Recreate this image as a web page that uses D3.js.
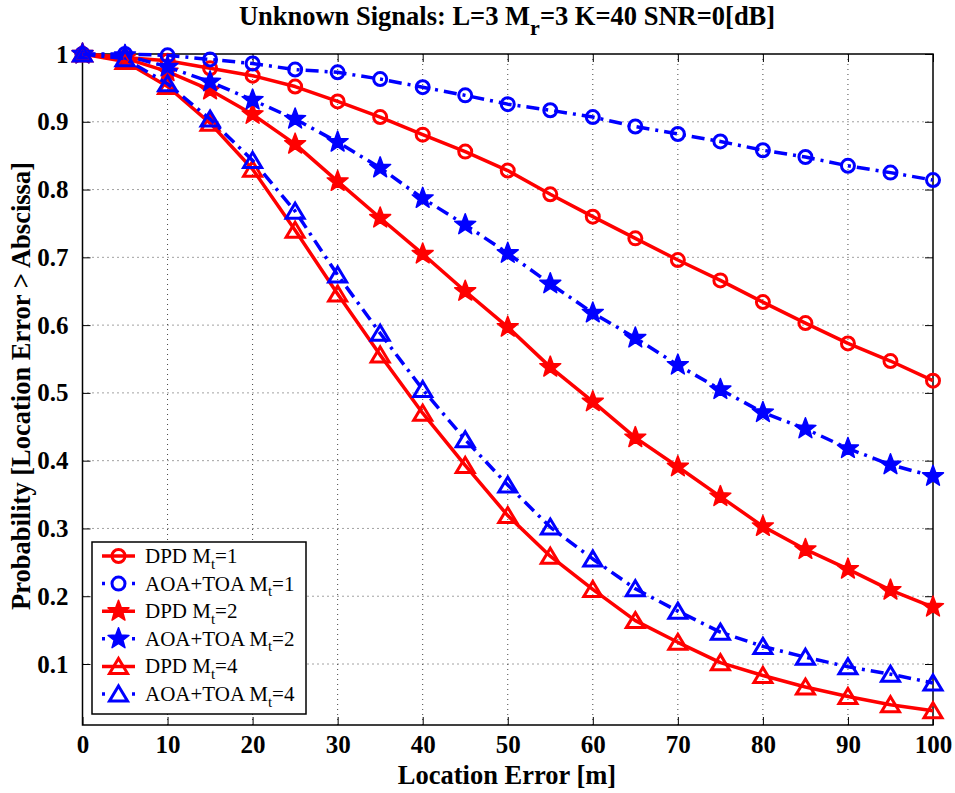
<!DOCTYPE html>
<html><head><meta charset="utf-8">
<script src="https://cdn.jsdelivr.net/npm/d3@7/dist/d3.min.js"></script>
<style>body{margin:0;background:#fff;} text{font-family:"Liberation Serif","Times New Roman",serif;}</style>
</head><body><svg id="c" width="955" height="793"></svg>
<script>
const xVals = [0,5,10,15,20,25,30,35,40,45,50,55,60,65,70,75,80,85,90,95,100];
const dpd1 = [1,0.995,0.99,0.979,0.968,0.952,0.930,0.907,0.881,0.856,0.828,0.793,0.760,0.728,0.696,0.666,0.634,0.603,0.573,0.547,0.518];
const aoa1 = [1,1,0.998,0.992,0.986,0.977,0.973,0.963,0.951,0.939,0.926,0.917,0.907,0.893,0.882,0.871,0.858,0.848,0.835,0.825,0.814];
const dpd2 = [1,0.994,0.974,0.947,0.911,0.867,0.812,0.758,0.705,0.650,0.597,0.538,0.487,0.434,0.391,0.347,0.303,0.269,0.240,0.209,0.184];
const aoa2 = [1,0.998,0.981,0.959,0.932,0.904,0.870,0.832,0.787,0.748,0.706,0.661,0.618,0.581,0.541,0.505,0.471,0.447,0.418,0.394,0.377];
const dpd4 = [1,0.989,0.952,0.898,0.830,0.740,0.646,0.556,0.470,0.393,0.319,0.259,0.210,0.164,0.132,0.102,0.083,0.066,0.052,0.040,0.031];
const aoa4 = [1,0.993,0.956,0.904,0.843,0.768,0.674,0.588,0.505,0.431,0.364,0.302,0.255,0.211,0.178,0.147,0.126,0.110,0.096,0.085,0.072];
const seriesNames = ["DPD M|t|=1","AOA+TOA M|t|=1","DPD M|t|=2","AOA+TOA M|t|=2","DPD M|t|=4","AOA+TOA M|t|=4"];
const xTicks = [0,10,20,30,40,50,60,70,80,90,100];
const yTicks = [0.1,0.2,0.3,0.4,0.5,0.6,0.7,0.8,0.9,1];

const series = [
  {name:seriesNames[0], vals:dpd1, color:"#ff0000", dash:null, marker:"circle"},
  {name:seriesNames[1], vals:aoa1, color:"#0000ff", dash:"13,6,3,6", marker:"circle"},
  {name:seriesNames[2], vals:dpd2, color:"#ff0000", dash:null, marker:"star"},
  {name:seriesNames[3], vals:aoa2, color:"#0000ff", dash:"13,6,3,6", marker:"star"},
  {name:seriesNames[4], vals:dpd4, color:"#ff0000", dash:null, marker:"tri"},
  {name:seriesNames[5], vals:aoa4, color:"#0000ff", dash:"13,6,3,6", marker:"tri"}
];

const L=82.5, R=933, T=54, B=725;
const x = d3.scaleLinear().domain([0,100]).range([L,R]);
const y = d3.scaleLinear().domain([0.01,1]).range([B,T]);
const svg = d3.select("#c");

// grid
const g = svg.append("g");
g.selectAll(".gx").data(xTicks.filter(d=>d>0&&d<100)).enter().append("line")
  .attr("x1",d=>x(d)).attr("x2",d=>x(d)).attr("y1",T).attr("y2",B)
  .attr("stroke","#444").attr("stroke-width",1).attr("stroke-dasharray","1,4");
g.selectAll(".gy").data(yTicks.filter(d=>d<1)).enter().append("line")
  .attr("y1",d=>y(d)).attr("y2",d=>y(d)).attr("x1",L).attr("x2",R)
  .attr("stroke","#444").attr("stroke-width",1).attr("stroke-dasharray","1,4");

// axes with inside ticks
const ax = svg.append("g");
const xb = d3.axisBottom(x).tickValues(xTicks).tickSizeInner(-8).tickSizeOuter(0).tickPadding(10);
const xt = d3.axisTop(x).tickValues(xTicks).tickSizeInner(-8).tickSizeOuter(0).tickFormat("");
const yl = d3.axisLeft(y).tickValues(yTicks).tickSizeInner(-8).tickSizeOuter(0).tickPadding(14).tickFormat(d=>d===1?"1":d3.format(".1f")(d));
const yr = d3.axisRight(y).tickValues(yTicks).tickSizeInner(-8).tickSizeOuter(0).tickFormat("");
ax.append("g").attr("transform",`translate(0,${B})`).call(xb);
ax.append("g").attr("transform",`translate(0,${T})`).call(xt);
ax.append("g").attr("transform",`translate(${L},0)`).call(yl);
ax.append("g").attr("transform",`translate(${R},0)`).call(yr);
ax.selectAll(".domain").remove();
ax.selectAll(".tick line").attr("stroke","#000").attr("stroke-width",1);
ax.selectAll(".tick text").attr("font-family","Liberation Serif").attr("font-weight","bold").attr("font-size","25px").attr("fill","#000");
svg.append("rect").attr("x",L).attr("y",T).attr("width",R-L).attr("height",B-T)
  .attr("fill","none").attr("stroke","#000").attr("stroke-width",1.5);

function starPath(ro, ri){
  let p=[];
  for(let i=0;i<10;i++){const r=i%2?ri:ro; const a=-Math.PI/2+i*Math.PI/5; p.push([r*Math.cos(a), r*Math.sin(a)]);}
  return "M"+p.map(q=>q.join(",")).join("L")+"Z";
}
function drawMarker(sel, type, color){
  if(type==="circle"){
    sel.append("circle").attr("r",6.5).attr("fill","none").attr("stroke",color).attr("stroke-width",3);
  } else if(type==="star"){
    sel.append("path").attr("d",starPath(11,4.6)).attr("fill",color).attr("stroke",color).attr("stroke-width",1.5).attr("stroke-linejoin","round");
  } else {
    sel.append("path").attr("d","M0,-8L9,7L-9,7Z").attr("fill","none").attr("stroke",color).attr("stroke-width",3).attr("stroke-linejoin","miter");
  }
}

const line = d3.line().x((d,i)=>x(xVals[i])).y(d=>y(d));
const plot = svg.append("g");
series.forEach(s=>{
  const gg = plot.append("g");
  gg.append("path").datum(s.vals).attr("d",line).attr("fill","none").attr("stroke",s.color)
    .attr("stroke-width",3.5).attr("stroke-dasharray",s.dash).attr("stroke-linejoin","round");
  s.vals.forEach((v,i)=>{
    const m = gg.append("g").attr("transform",`translate(${x(xVals[i])},${y(v)})`);
    drawMarker(m, s.marker, s.color);
  });
});

// legend
const lg = svg.append("g");
lg.append("rect").attr("x",92).attr("y",542).attr("width",214).attr("height",172)
  .attr("fill","#fff").attr("stroke","#000").attr("stroke-width",1.5);
series.forEach((s,i)=>{
  const cy = 556 + i*27.6;
  lg.append("line").attr("x1",102).attr("x2",135).attr("y1",cy).attr("y2",cy)
    .attr("stroke",s.color).attr("stroke-width",3.5).attr("stroke-dasharray",s.dash?"3,27,3":null);
  const m = lg.append("g").attr("transform",`translate(118.5,${cy})`);
  drawMarker(m, s.marker, s.color);
  const parts = s.name.split("|");
  const t = lg.append("text").attr("x",145).attr("y",cy+7).attr("font-size","21px").attr("fill","#000");
  t.append("tspan").text(parts[0]);
  t.append("tspan").attr("dy",5.5).attr("font-size","15px").text(parts[1]);
  t.append("tspan").attr("dy",-5.5).text(parts[2]);
});

// title
const tt = svg.append("text").attr("x",507).attr("y",25).attr("text-anchor","middle")
  .attr("font-weight","bold").attr("font-size","26.5px").attr("fill","#000");
tt.append("tspan").text("Unknown Signals: L=3 M");
tt.append("tspan").attr("dy",10).attr("font-size","22px").text("r");
tt.append("tspan").attr("dy",-10).text("=3 K=40 SNR=0[dB]");

svg.append("text").attr("x",507).attr("y",784).attr("text-anchor","middle")
  .attr("font-weight","bold").attr("font-size","26.5px").attr("fill","#000").text("Location Error [m]");
svg.append("text").attr("transform","translate(30,386) rotate(-90)").attr("text-anchor","middle")
  .attr("font-weight","bold").attr("font-size","26.5px").attr("fill","#000").text("Probability [Location Error > Abscissa]");
</script></body></html>
